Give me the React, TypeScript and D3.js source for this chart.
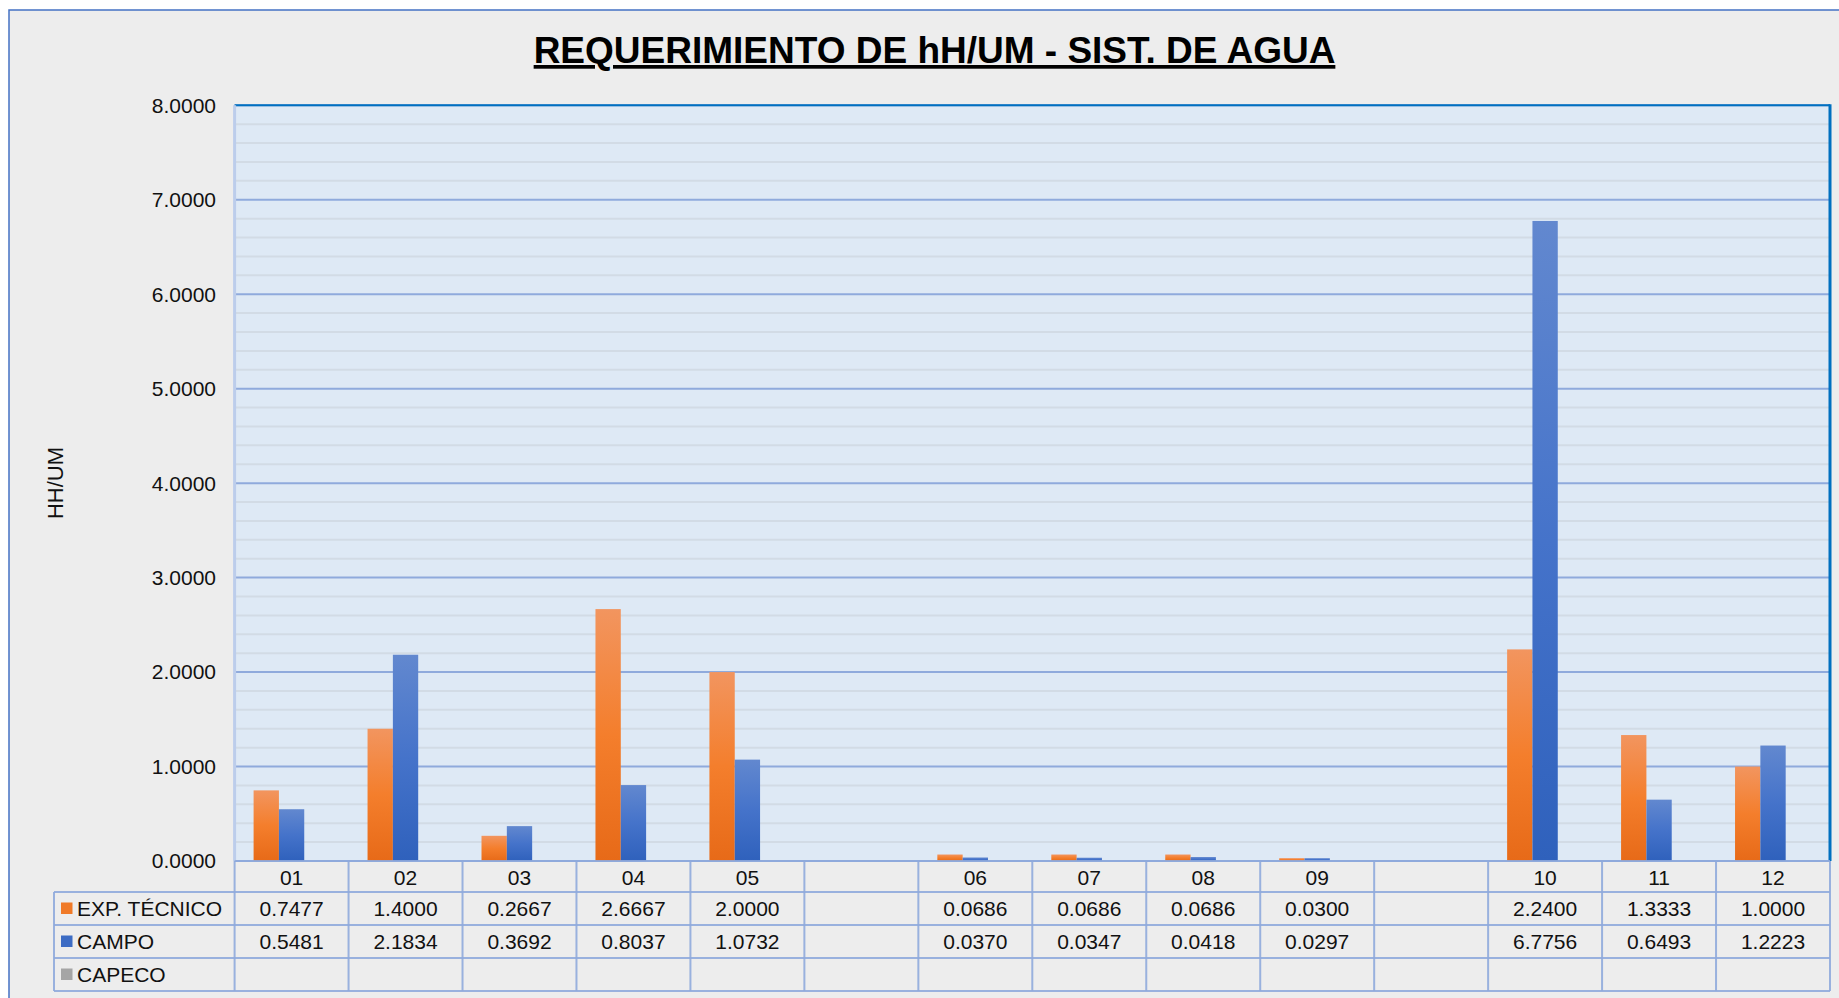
import React from 'react';
import * as d3 from 'd3';

const categories = ['01', '02', '03', '04', '05', '', '06', '07', '08', '09', '', '10', '11', '12'];
const expTecnico = [0.7477, 1.4, 0.2667, 2.6667, 2.0, null, 0.0686, 0.0686, 0.0686, 0.03, null, 2.24, 1.3333, 1.0];
const campo = [0.5481, 2.1834, 0.3692, 0.8037, 1.0732, null, 0.037, 0.0347, 0.0418, 0.0297, null, 6.7756, 0.6493, 1.2223];
const capeco: (number | null)[] = categories.map(() => null);
const seriesNames = ['EXP. TÉCNICO', 'CAMPO', 'CAPECO'];
const yTicks = [0, 1, 2, 3, 4, 5, 6, 7, 8];

const W = 1839;
const H = 998;
const plot = { left: 234.6, right: 1830, top: 105.3, bottom: 861 };
const rowH = [31, 33, 33, 33];
const font = "'Liberation Sans', Arial, sans-serif";

const App: React.FC = () => {
  const series = [
    { name: seriesNames[0], values: expTecnico, fill: 'url(#gOrange)', key: '#F07A28' },
    { name: seriesNames[1], values: campo, fill: 'url(#gBlue)', key: '#3D6CC4' },
    { name: seriesNames[2], values: capeco, fill: '#A5A5A5', key: '#A5A5A5' },
  ];

  const x = d3.scaleBand<string>()
    .domain(categories.map((_, i) => String(i)))
    .range([plot.left, plot.right])
    .padding(0);
  const inner = d3.scaleBand<string>()
    .domain(seriesNames)
    .range([0, x.bandwidth()])
    .paddingInner(0)
    .paddingOuter(0.75);
  const y = d3.scaleLinear().domain([0, 8]).range([plot.bottom, plot.top]);
  const minor = d3.range(0, 8.001, 0.2).filter(v => Math.abs(v - Math.round(v)) > 1e-6);
  const fmt = d3.format('.4f');

  const rowY = [plot.bottom];
  rowH.forEach(h => rowY.push(rowY[rowY.length - 1] + h));
  const legendLeft = 54;
  const grid = '#8FAADC';

  return (
    <div style={{ position: 'absolute', left: 0, top: 0 }}>
      <svg width={W} height={H} style={{ display: 'block' }} fontFamily={font}>
        <defs>
          <linearGradient id="gOrange" x1="0" y1="0" x2="0" y2="1">
            <stop offset="0" stopColor="#F2955F" />
            <stop offset="0.5" stopColor="#F47E2C" />
            <stop offset="1" stopColor="#E76A18" />
          </linearGradient>
          <linearGradient id="gBlue" x1="0" y1="0" x2="0" y2="1">
            <stop offset="0" stopColor="#6288CF" />
            <stop offset="0.5" stopColor="#4573CA" />
            <stop offset="1" stopColor="#2F61BC" />
          </linearGradient>
        </defs>
        <rect width={W} height={H} fill="#fff" />
        <rect x={9} y={10} width={1860} height={1000} fill="#EDEDED" stroke="#4472C4" strokeWidth={1.5} />

        <text x={934.5} y={63} textAnchor="middle" fontSize={37} fontWeight="bold"
          style={{ textDecoration: 'underline' }} fill="#000">
          REQUERIMIENTO DE hH/UM - SIST. DE AGUA
        </text>

        {/* plot area */}
        <rect x={plot.left} y={plot.top} width={plot.right - plot.left} height={plot.bottom - plot.top} fill="#DEE9F5" />
        {minor.map(v => (
          <line key={'m' + v} x1={plot.left} x2={plot.right} y1={y(v)} y2={y(v)} stroke="#D2DBE5" strokeWidth={2} />
        ))}
        {yTicks.map(v => (
          <line key={'M' + v} x1={plot.left} x2={plot.right} y1={y(v)} y2={y(v)} stroke={grid} strokeWidth={2} />
        ))}
        {yTicks.map(v => (
          <text key={'t' + v} x={216} y={y(v)} dy="0.35em" textAnchor="end" fontSize={21} fill="#111">{fmt(v)}</text>
        ))}
        <line x1={plot.left} x2={plot.right} y1={plot.top} y2={plot.top} stroke="#0070C0" strokeWidth={2} />
        <line x1={plot.right} x2={plot.right} y1={plot.top - 1} y2={plot.bottom} stroke="#0070C0" strokeWidth={3} />
        <line x1={plot.left} x2={plot.left} y1={plot.top} y2={plot.bottom} stroke="#BCCDEB" strokeWidth={3} />

        <text transform={`translate(63,483) rotate(-90)`} textAnchor="middle" fontSize={22} fill="#111">HH/UM</text>

        {/* bars */}
        {series.map(s => (
          <g key={s.name}>
            {s.values.map((v, i) => v == null ? null : (
              <rect key={i}
                x={(x(String(i)) as number) + (inner(s.name) as number)}
                y={y(v)}
                width={inner.bandwidth()}
                height={y(0) - y(v)}
                fill={s.fill} />
            ))}
          </g>
        ))}

        {/* data table */}
        <g stroke={grid} strokeWidth={2} strokeOpacity={0.9}>
          <line x1={plot.left} x2={plot.right} y1={rowY[0]} y2={rowY[0]} />
          {rowY.slice(1).map((ry, i) => (
            <line key={'h' + i} x1={legendLeft} x2={plot.right} y1={ry} y2={ry} />
          ))}
          <line x1={legendLeft} x2={legendLeft} y1={rowY[1]} y2={rowY[4]} />
          {categories.map((_, i) => (
            <line key={'v' + i} x1={x(String(i))} x2={x(String(i))} y1={rowY[0]} y2={rowY[4]} />
          ))}
          <line x1={plot.right} x2={plot.right} y1={rowY[0]} y2={rowY[4]} />
        </g>
        {categories.map((c, i) => (
          <text key={'c' + i} x={(x(String(i)) as number) + x.bandwidth() / 2} y={(rowY[0] + rowY[1]) / 2 + 1}
            dy="0.35em" textAnchor="middle" fontSize={21} fill="#111">{c}</text>
        ))}
        {series.map((s, r) => (
          <g key={'row' + s.name}>
            <rect x={61} y={(rowY[r + 1] + rowY[r + 2]) / 2 - 6} width={11.5} height={11.5} fill={s.key} />
            <text x={77} y={(rowY[r + 1] + rowY[r + 2]) / 2} dy="0.35em" fontSize={21} fill="#111">{s.name}</text>
            {s.values.map((v, i) => v == null ? null : (
              <text key={i} x={(x(String(i)) as number) + x.bandwidth() / 2} y={(rowY[r + 1] + rowY[r + 2]) / 2}
                dy="0.35em" textAnchor="middle" fontSize={21} fill="#111">{fmt(v)}</text>
            ))}
          </g>
        ))}
      </svg>
    </div>
  );
};

export default App;
